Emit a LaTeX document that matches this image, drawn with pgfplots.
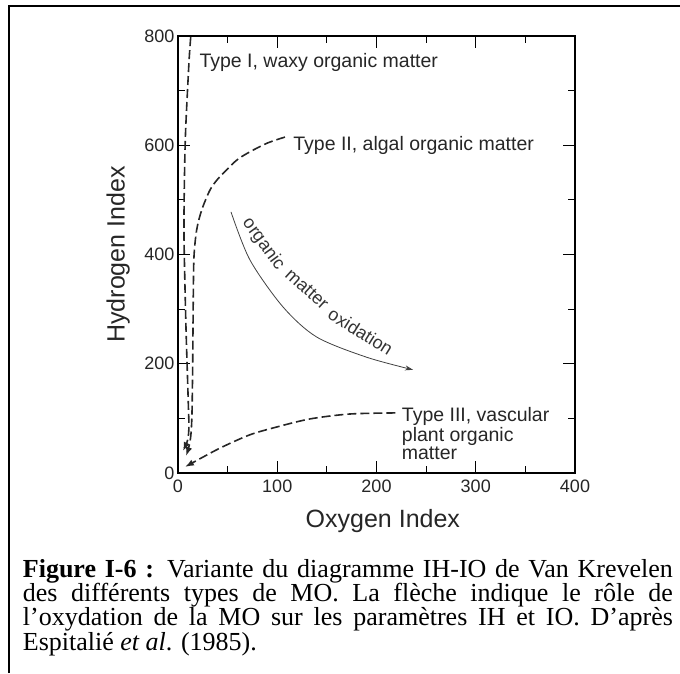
\documentclass[border=0pt]{standalone}
\usepackage{fontspec}
\setmainfont{Liberation Serif}
\newfontfamily\sans{Liberation Sans}
\usepackage{pgfplots}
\pgfplotsset{compat=1.18}
\usetikzlibrary{arrows.meta}

\begin{document}
\begin{tikzpicture}[x=1pt,y=1pt,
  lab/.style={anchor=base west, font=\sans\fontsize{19.5}{19.5}\selectfont, text=black!85, inner sep=0},
  oxw/.style={anchor=center, inner sep=0, font=\sans\fontsize{18}{18}\selectfont, text=black!80},
  capline/.style={anchor=base west, inner sep=0, font=\fontsize{26}{24}\selectfont},
  dashcurve/.style={black!85, line width=1.6pt, dash pattern=on 9pt off 4pt, smooth,
    -{Latex[length=9pt,width=6.5pt]}}]
\path[use as bounding box] (0,0) rectangle (680,-673);
\draw[line width=2pt] (9,-673) -- (9,-6) -- (681,-6);
\begin{axis}[
  at={(178pt,-473pt)}, anchor=south west,
  scale only axis, width=397pt, height=437pt,
  xmin=0, xmax=400, ymin=0, ymax=800,
  xtick={0,100,...,400}, ytick={0,200,...,800},
  minor xtick={50,150,250,350}, minor ytick={100,300,500,700},
  tick align=inside, major tick length=12pt, minor tick length=7pt,
  every tick/.style={black, line width=0.9pt},
  axis line style={line width=1.3pt},
  tick label style={font=\sans\fontsize{18}{18}\selectfont, text=black!85},
  /pgf/number format/assume math mode=true,
  xticklabel style={yshift=-3pt},
  xlabel={Oxygen Index}, ylabel={Hydrogen Index},
  label style={font=\sans\fontsize{25}{25}\selectfont, text=black!85},
  xlabel style={at={(axis description cs:0.516,-0.11)}, anchor=center},
  ylabel style={at={(axis description cs:-0.151,0.5)}, anchor=center},
  clip=false,
]
% Type I
\addplot[dashcurve] coordinates {
 (12.8,798) (11,750) (7.7,628) (6.5,540) (6,445) (6.8,360) (8.1,262)
 (9.5,180) (10.5,120) (11,85) (10,62) (7.5,50) (5,40)};
% Type II
\addplot[dashcurve] coordinates {
 (107.8,615) (90,604) (72.5,588) (60,574) (49,555) (40,538) (32.2,518)
 (23.9,481.5) (18.8,445) (16.1,396) (15.4,323) (14.8,201) (14.1,110)
 (13,70) (11,48) (8,31)};
% Type III
\addplot[dashcurve] coordinates {
 (219,110) (173,108) (133,99) (99,84) (72.5,70) (45,48) (25,29) (7,11)};
% oxidation arrow
\addplot[black!75, line width=0.8pt, smooth, -{Stealth[length=8pt,width=5pt]}] coordinates {
 (53.4,478) (72.5,390) (105.8,304) (139.7,249) (190,212) (236.8,189)};

\node[oxw, rotate=-54] at (axis cs:86,419) {organic};
\node[oxw, rotate=-42] at (axis cs:130,337) {matter};
\node[oxw, rotate=-32] at (axis cs:184,259) {oxidation};

\node[lab] at (axis cs:21.5,742) {Type I, waxy organic matter};
\node[lab] at (axis cs:116,591) {Type II, algal organic matter};
\node[lab] at (axis cs:225.4,94) {Type III, vascular};
\node[lab] at (axis cs:225.4,58.6) {plant organic};
\node[lab] at (axis cs:225.4,25) {matter};
\end{axis}
\node[capline] at (22.7,-577) {\makebox[650pt][s]{\textbf{Figure I-6 :} Variante du diagramme IH-IO de Van Krevelen}};
\node[capline] at (22.7,-601.3) {\makebox[650pt][s]{des différents types de MO. La flèche indique le rôle de}};
\node[capline] at (22.7,-625.6) {\makebox[650pt][s]{l’oxydation de la MO sur les paramètres IH et IO. D’après}};
\node[capline] at (22.7,-650) {Espitalié \textit{et al}. (1985).};
\end{tikzpicture}
\end{document}
